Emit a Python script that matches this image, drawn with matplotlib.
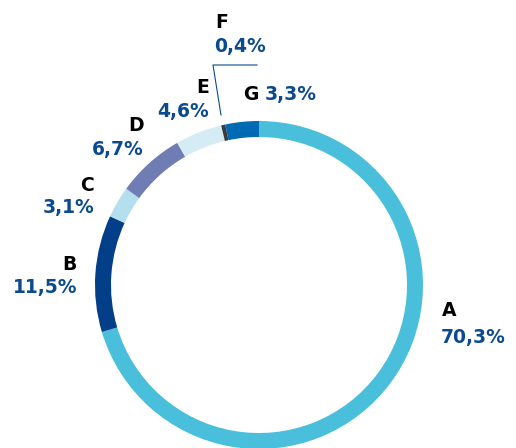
import matplotlib.pyplot as plt

labels = ["A", "B", "C", "D", "E", "F", "G"]
values = [70.3, 11.5, 3.1, 6.7, 4.6, 0.4, 3.3]
pct_text = ["70,3%", "11,5%", "3,1%", "6,7%", "4,6%", "0,4%", "3,3%"]
colors = ["#49bfdb", "#023f88", "#b4dfee", "#6f7db4", "#d6ecf5", "#3b3b3b", "#0069b4"]

blue = "#0b4a8e"
H = 448  # figure height in px, texts placed in pixel coords from the top

fig = plt.figure(figsize=(5.16, 4.48), dpi=100)
ax = fig.add_axes([0, 0, 1, 1])
ax.set_xlim(0, 516)
ax.set_ylim(0, H)
ax.set_aspect("equal")
ax.axis("off")

ax.pie(values, colors=colors, startangle=90, counterclock=False,
       center=(259, H - 285), radius=164,
       wedgeprops=dict(width=16, linewidth=0))
ax.set_xlim(0, 516)
ax.set_ylim(0, H)

fs = 13.5
# (letter x, letter y, pct x, pct y, ha)
pos = {
    "A": (442, 311, 441, 337, "left"),
    "B": (77, 265, 77, 288, "right"),
    "C": (94, 185, 94, 207, "right"),
    "D": (144, 125, 144, 149, "right"),
    "E": (209, 87, 209, 111, "right"),
    "F": (215, 22, 214, 46, "left"),
}
for lab, pt in zip(labels, pct_text):
    if lab == "G":
        continue
    lx, ly, px, py, ha = pos[lab]
    ax.text(lx, H - ly, lab, ha=ha, va="center", fontsize=fs,
            fontweight="bold", color="black")
    ax.text(px, H - py, pt, ha=ha, va="center", fontsize=fs,
            fontweight="bold", color=blue)

# G sits on one line
ax.text(258, H - 94, "G", ha="right", va="center", fontsize=fs,
        fontweight="bold", color="black")
ax.text(265, H - 94, pct_text[6], ha="left", va="center", fontsize=fs,
        fontweight="bold", color=blue)

# leader line for F
ax.plot([257, 213, 221], [H - 65, H - 65, H - 115], color=blue, lw=0.8)

fig.savefig("out.png", dpi=100)
